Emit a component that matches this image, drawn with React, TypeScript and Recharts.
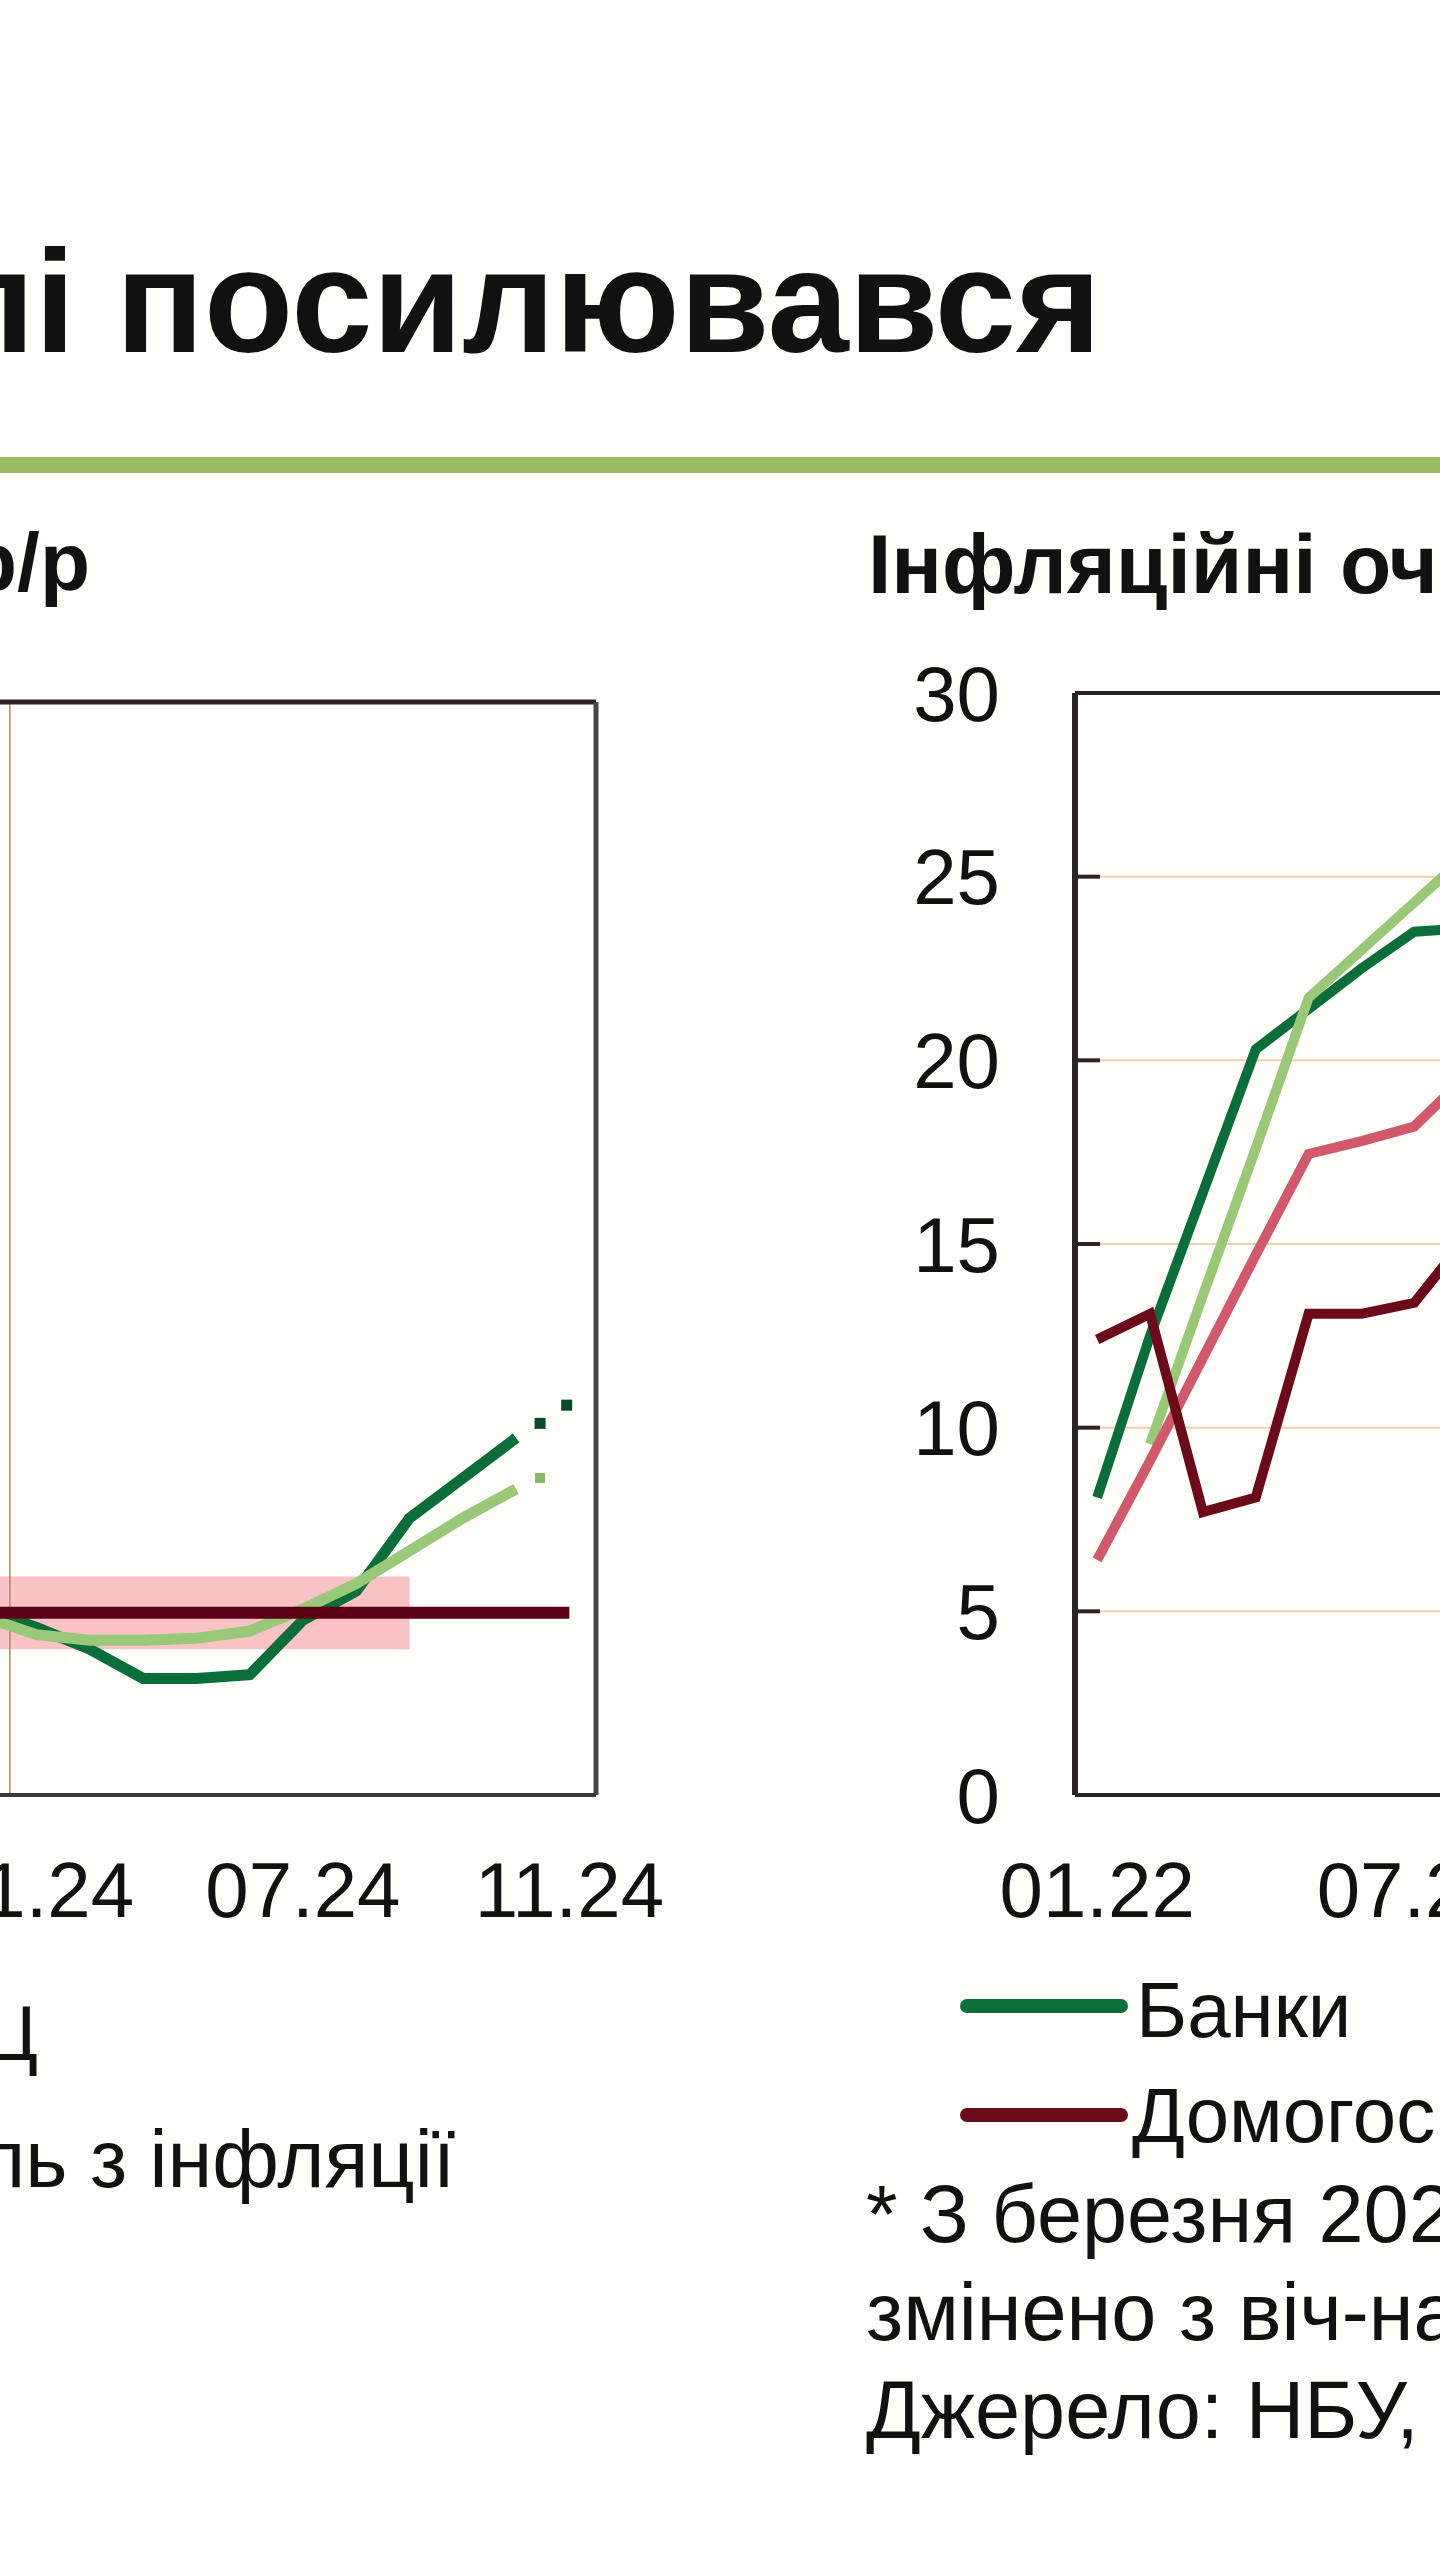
import {
  LineChart,
  Line,
  XAxis,
  YAxis,
  CartesianGrid,
  ReferenceLine,
  ReferenceArea,
} from 'recharts'

const FONT = '"Liberation Sans", Arial, sans-serif'

// left chart: inflation, % y/y (month index, 0 = first labelled month)
const LEFT_MONTHS = [-3, -2, -1, 0, 1, 2, 3, 4, 5, 6, 7, 8, 9]
const CPI = [5.3, 5.1, 5.1, 4.6, 4.0, 3.2, 3.2, 3.3, 4.8, 5.6, 7.6, 8.7, 9.8]
const CORE = [5.6, 5.1, 4.9, 4.4, 4.25, 4.25, 4.3, 4.5, 5.1, 5.8, 6.7, 7.6, 8.4]
const FORECAST_MONTHS = [9.45, 9.95]
const CPI_FORECAST = [10.2, 10.7]
const CORE_FORECAST = [8.7, null]
const TARGET = 5
const TARGET_BAND = [4, 6]
const BAND_END = 7
const TARGET_END = 10
const LEFT_TICK_POS = [0, 5, 10]
const LEFT_TICK_LABELS = ['01.24', '07.24', '11.24']
const LEFT_DOMAIN = [-3.5, 10.5]

// right chart: inflation expectations
const RIGHT_MONTHS = [0, 1, 2, 3, 4, 5, 6, 7]
const BANKS = [8.1, 12.5, 16.4, 20.3, 21.4, 22.5, 23.5, 23.6]
const HOUSEHOLDS = [12.4, 13.1, 7.7, 8.1, 13.1, 13.1, 13.4, 15.2]
const ANALYSTS = [6.4, 9.1, 11.9, 14.7, 17.45, 17.8, 18.2, 19.6]
const BUSINESS = [null, 9.55, 13.6, 17.6, 21.7, 23.0, 24.3, 25.6]
const RIGHT_TICK_POS = [0, 6]
const RIGHT_TICK_LABELS = ['01.22', '07.22']
const RIGHT_DOMAIN = [-0.42, 8]

const Y_TICKS = [0, 5, 10, 15, 20, 25, 30]

const SERIES_NAMES = { banks: 'Банки', households: 'Домогосподарства' }

const DARK_GREEN = '#0b6e3a'
const LIGHT_GREEN = '#98c878'
const PINK = '#d0596c'
const DARK_RED = '#6b0b1a'

const leftData = [
  ...LEFT_MONTHS.map((k, i) => ({ k, cpi: CPI[i], core: CORE[i] })),
  ...FORECAST_MONTHS.map((k, i) => ({ k, cpiF: CPI_FORECAST[i], coreF: CORE_FORECAST[i] })),
]

const rightData = RIGHT_MONTHS.map((k, i) => ({
  k,
  banks: BANKS[i],
  households: HOUSEHOLDS[i],
  analysts: ANALYSTS[i],
  business: BUSINESS[i],
}))

const tickStyle = { fill: '#111', fontSize: 78, fontFamily: FONT }

const squareDot = (color: string, size: number) => (p: any) => {
  if (p.cx == null || p.cy == null || p.value == null || p.payload?.[p.dataKey] == null)
    return <g key={`e-${p.index}`} />
  return (
    <rect
      key={`s-${p.index}`}
      x={p.cx - size / 2}
      y={p.cy - size / 2}
      width={size}
      height={size}
      fill={color}
    />
  )
}

function LeftChart() {
  return (
    <LineChart width={936} height={1283} data={leftData} margin={{ top: 60, right: 100, bottom: 0, left: 0 }}>
      <CartesianGrid vertical={false} stroke="#c4a57c" strokeWidth={1.5} />
      <ReferenceArea
        x1={LEFT_DOMAIN[0]}
        x2={BAND_END}
        y1={TARGET_BAND[0]}
        y2={TARGET_BAND[1]}
        fill="#f8bcc0"
        fillOpacity={0.9}
        stroke="none"
      />
      <XAxis
        type="number"
        dataKey="k"
        domain={LEFT_DOMAIN}
        ticks={LEFT_TICK_POS}
        interval={0}
        tickFormatter={(v: number) => LEFT_TICK_LABELS[LEFT_TICK_POS.indexOf(v)]}
        height={130}
        tickLine={false}
        tickSize={0}
        tickMargin={67}
        axisLine={{ stroke: '#3b3535', strokeWidth: 4 }}
        tick={tickStyle}
      />
      {/* y labels sit off the left edge of the page, as in the source crop */}
      <YAxis
        domain={[0, 30]}
        ticks={Y_TICKS}
        width={90}
        axisLine={false}
        tickLine={false}
        tick={false}
      />
      <ReferenceLine x={-0.5} stroke="#b08a60" strokeWidth={1.5} />
      <ReferenceLine y={30} stroke="#2a2424" strokeWidth={5} />
      <ReferenceLine x={LEFT_DOMAIN[1]} stroke="#4a4444" strokeWidth={5} />
      <Line dataKey="cpi" stroke={DARK_GREEN} strokeWidth={11} dot={false} connectNulls isAnimationActive={false} />
      <Line dataKey="core" stroke={LIGHT_GREEN} strokeWidth={11} dot={false} connectNulls isAnimationActive={false} />
      <Line dataKey="cpiF" stroke="none" dot={squareDot('#0a4a2a', 11)} isAnimationActive={false} />
      <Line dataKey="coreF" stroke="none" dot={squareDot('#8db86a', 10)} isAnimationActive={false} />
      <ReferenceLine
        segment={[{ x: LEFT_DOMAIN[0], y: TARGET }, { x: TARGET_END, y: TARGET }]}
        stroke="#5c0014"
        strokeWidth={12}
        zIndex={1000}
      />
    </LineChart>
  )
}

function RightChart() {
  return (
    <LineChart width={625} height={1292} data={rightData} margin={{ top: 60, right: 10, bottom: 0, left: 0 }}>
      <CartesianGrid vertical={false} stroke="#efcfae" strokeWidth={2} />
      <XAxis
        type="number"
        dataKey="k"
        domain={RIGHT_DOMAIN}
        ticks={RIGHT_TICK_POS}
        interval={0}
        tickFormatter={(v: number) => RIGHT_TICK_LABELS[RIGHT_TICK_POS.indexOf(v)]}
        height={130}
        tickLine={false}
        tickSize={0}
        tickMargin={67}
        axisLine={{ stroke: '#2b2424', strokeWidth: 4 }}
        tick={tickStyle}
      />
      <YAxis
        domain={[0, 30]}
        ticks={Y_TICKS}
        interval={0}
        width={170}
        tickSize={-25}
        tickMargin={100}
        tickLine={{ stroke: '#2b2424', strokeWidth: 4 }}
        axisLine={{ stroke: '#2b2424', strokeWidth: 6 }}
        tick={tickStyle}
      />
      <ReferenceLine y={30} stroke="#2a2424" strokeWidth={4} />
      <Line dataKey="banks" name={SERIES_NAMES.banks} stroke={DARK_GREEN} strokeWidth={10} dot={false} isAnimationActive={false} />
      <Line dataKey="business" stroke={LIGHT_GREEN} strokeWidth={10} dot={false} isAnimationActive={false} />
      <Line dataKey="analysts" stroke={PINK} strokeWidth={10} dot={false} isAnimationActive={false} />
      <Line dataKey="households" name={SERIES_NAMES.households} stroke={DARK_RED} strokeWidth={10} dot={false} isAnimationActive={false} />
    </LineChart>
  )
}

export default function App() {
  return (
    <div
      style={{
        position: 'absolute',
        left: 0,
        top: 0,
        width: 1440,
        height: 2560,
        overflow: 'hidden',
        background: '#fffefa',
        fontFamily: FONT,
      }}
    >
      <div style={{ position: 'absolute', left: -240, top: 642 }}>
        <LeftChart />
      </div>
      <div style={{ position: 'absolute', left: 905, top: 633 }}>
        <RightChart />
      </div>
      <svg
        width={1440}
        height={2560}
        style={{ position: 'absolute', left: 0, top: 0, pointerEvents: 'none' }}
        fontFamily={FONT}
        fill="#111"
      >
        <text x={-58} y={352} fontSize={146} fontWeight="bold">лі посилювався</text>
        <rect x={0} y={457} width={1440} height={16} fill="#9bbb64" />
        <text x={90} y={590} fontSize={82} fontWeight="bold" textAnchor="end">р/р</text>
        <text x={868} y={593} fontSize={84} fontWeight="bold">Інфляційні оч</text>

        <text x={38} y={2060} fontSize={78} textAnchor="end">Ц</text>
        <text x={-22} y={2187} fontSize={81}>ль з інфляції</text>

        <line x1={967} x2={1121} y1={2006} y2={2006} stroke={DARK_GREEN} strokeWidth={14} strokeLinecap="round" />
        <text x={1136} y={2037} fontSize={78}>{SERIES_NAMES.banks}</text>
        <line x1={967} x2={1121} y1={2115} y2={2115} stroke={DARK_RED} strokeWidth={14} strokeLinecap="round" />
        <text x={1132} y={2142} fontSize={78}>{SERIES_NAMES.households}</text>

        <text x={866} y={2242} fontSize={81}>* З березня 202</text>
        <text x={866} y={2340} fontSize={81}>змінено з віч-на</text>
        <text x={866} y={2438} fontSize={81}>Джерело: НБУ,</text>
      </svg>
    </div>
  )
}
